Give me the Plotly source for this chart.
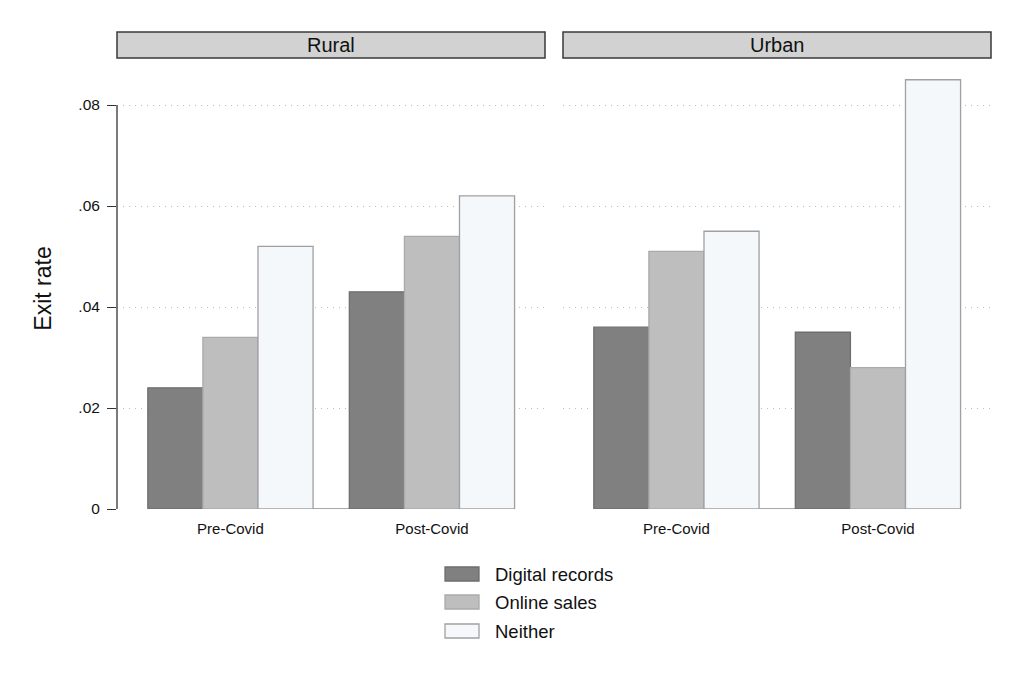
import plotly.graph_objects as go

# ---- data ----
panels = ["Rural", "Urban"]
periods = ["Pre-Covid", "Post-Covid"]
series_names = ["Digital records", "Online sales", "Neither"]
rural_digital = [0.024, 0.043]
rural_online = [0.034, 0.054]
rural_neither = [0.052, 0.062]
urban_digital = [0.036, 0.035]
urban_online = [0.051, 0.028]
urban_neither = [0.055, 0.085]
y_tickvals = [0, 0.02, 0.04, 0.06, 0.08]
y_ticktext = ["0", ".02", ".04", ".06", ".08"]

# ---- style ----
fills = ["#808080", "#bebebe", "#f5f8fb"]
edges = ["#6e6e6e", "#aaaaaa", "#a0a0a0"]
FONT = "Liberation Sans, Arial, sans-serif"
W, H = 1024, 682
OFF = 8  # page body margin

def px_x(p):
    return (p - OFF) / W

def px_y(p):
    return 1 - (p - OFF) / H

panel_x = [(117, 545), (563, 991)]
plot_top, plot_bottom = 68, 509
y_max = 0.08 * (plot_bottom - plot_top) / (509 - 105)

fig = go.Figure()
data = {
    "Rural": [rural_digital, rural_online, rural_neither],
    "Urban": [urban_digital, urban_online, urban_neither],
}
for pi, panel in enumerate(panels):
    xa = "x" if pi == 0 else "x2"
    ya = "y" if pi == 0 else "y2"
    for si, name in enumerate(series_names):
        fig.add_trace(go.Bar(
            x=periods, y=data[panel][si], name=name,
            marker=dict(color=fills[si], line=dict(color=edges[si], width=1.3)),
            xaxis=xa, yaxis=ya, showlegend=False,
        ))

xrange = [-0.563, 1.561]
common_x = dict(type="category", range=xrange, showline=False, showgrid=False, automargin=False,
                zeroline=False, ticks="", ticklabelstandoff=9,
                tickfont=dict(family=FONT, size=15, color="#111"))
common_y = dict(range=[0, y_max], tickvals=y_tickvals, showgrid=True, gridcolor="#bdbdbd",
                griddash="1px,5px", gridwidth=1, zeroline=False, showline=False, automargin=False)

fig.update_layout(
    width=W, height=H,
    margin=dict(l=0, r=0, t=0, b=0, pad=0, autoexpand=False),
    paper_bgcolor="white", plot_bgcolor="white",
    barmode="group", bargap=0.18, bargroupgap=0,
    font=dict(family=FONT, color="#111"),
    showlegend=False,
    xaxis=dict(domain=[px_x(panel_x[0][0]), px_x(panel_x[0][1])], anchor="y", **common_x),
    xaxis2=dict(domain=[px_x(panel_x[1][0]), px_x(panel_x[1][1])], anchor="y2", **common_x),
    yaxis=dict(domain=[px_y(plot_bottom), px_y(plot_top)], anchor="x",
               ticktext=y_ticktext, ticks="outside", ticklen=9, tickcolor="#333",
               tickwidth=1.2, ticklabelstandoff=4,
               tickfont=dict(family=FONT, size=15.5, color="#111"),
               title=dict(text="Exit rate", font=dict(family=FONT, size=23, color="#111"), standoff=20),
               **common_y),
    yaxis2=dict(domain=[px_y(plot_bottom), px_y(plot_top)], anchor="x2", matches="y",
                showticklabels=False, ticks="", **common_y),
)

shapes = []
annotations = []
for pi, panel in enumerate(panels):
    xa = "x" if pi == 0 else "x2"
    ya = "y" if pi == 0 else "y2"
    x0, x1 = panel_x[pi]
    shapes.append(dict(type="rect", xref="paper", yref="paper",
                       x0=px_x(x0), x1=px_x(x1), y0=px_y(58), y1=px_y(32),
                       fillcolor="#d2d2d2", line=dict(color="#3a3a3a", width=1.5), layer="below"))
    annotations.append(dict(text=panel, xref="paper", yref="paper",
                            x=px_x((x0 + x1) / 2), y=px_y(45), showarrow=False,
                            font=dict(family=FONT, size=20, color="#111"),
                            xanchor="center", yanchor="middle"))
    shapes.append(dict(type="line", xref=xa, yref=ya, x0=periods[0], x1=periods[-1],
                       y0=0, y1=0, line=dict(color="#a8a8a8", width=2), layer="below"))

shapes.append(dict(type="line", xref="x domain", yref="y", x0=0, x1=0,
                   y0=y_tickvals[0], y1=y_tickvals[-1], line=dict(color="#333", width=1.3)))

leg_y = [574, 602, 631]
for si, name in enumerate(series_names):
    shapes.append(dict(type="rect", xref="paper", yref="paper",
                       x0=px_x(445), x1=px_x(479), y0=px_y(leg_y[si] + 7), y1=px_y(leg_y[si] - 7),
                       fillcolor=fills[si], line=dict(color=edges[si], width=1.3)))
    annotations.append(dict(text=name, xref="paper", yref="paper", x=px_x(493), y=px_y(leg_y[si]),
                            showarrow=False, xanchor="left", yanchor="middle",
                            font=dict(family=FONT, size=18.5, color="#111")))

fig.update_layout(shapes=shapes, annotations=annotations)
fig.write_html("out.html")
